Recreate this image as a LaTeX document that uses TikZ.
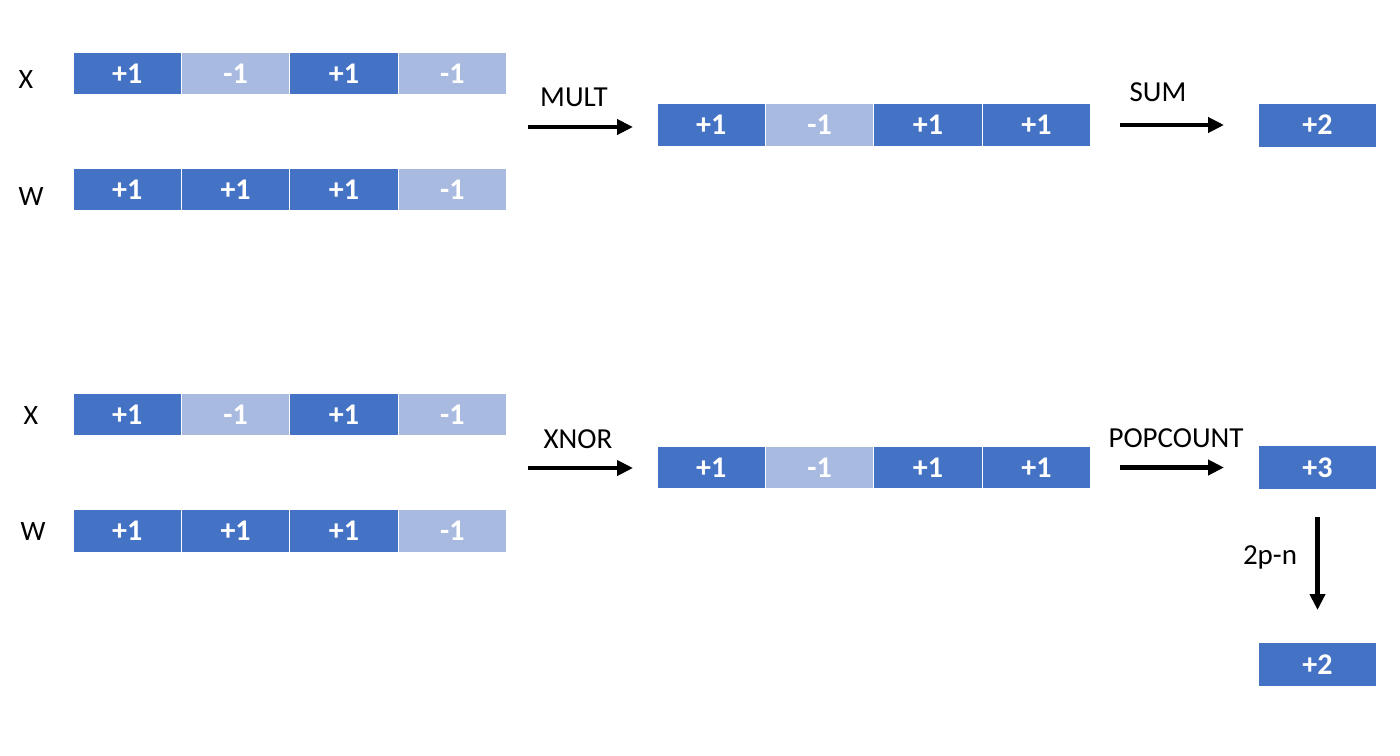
\documentclass[tikz,border=0pt]{standalone}
\usepackage{fontspec}
\setmainfont{Carlito}
\usepackage{tikz}
\usetikzlibrary{positioning}
\usetikzlibrary{arrows.meta}
\definecolor{bitpos}{HTML}{4472C4}
\definecolor{bitneg}{HTML}{A8BAE0}
\tikzset{bit/.style={minimum width=54.2pt,minimum height=21.5pt,inner sep=0pt,
                     outer sep=0pt,draw=white,line width=0.6pt,text=white,
                     font=\fontsize{15}{17}\selectfont\bfseries},
         plusbit/.style={bit,fill=bitpos},
         minusbit/.style={bit,fill=bitneg},
         total/.style={bit,fill=bitpos,draw=none,minimum width=58.5pt},
         oplabel/.style={font=\fontsize{14.5}{16}\selectfont},
         rowlabel/.style={font=\fontsize{14}{16}\selectfont},
         flow/.style={draw,line width=2.4pt,-{Triangle[length=8pt,width=7.5pt]}}}

\begin{document}
\begin{tikzpicture}[x=0.5pt,y=-0.5pt]
  \useasboundingbox[fill=white] (0,0) rectangle (1400,755);
  % real-valued product
  \node[rowlabel] (lx) at (26,80) {X};
  \node[rowlabel] (lw) at (31,197) {W};
  \node[plusbit,anchor=west] (xa) at (73,73.5) {+1};
  \node[minusbit,right=0pt of xa] (xb) {-1};
  \node[plusbit,right=0pt of xb] (xc) {+1};
  \node[minusbit,right=0pt of xc] (xd) {-1};
  \node[plusbit,anchor=west] (wa) at (73,189.5) {+1};
  \node[plusbit,right=0pt of wa] (wb) {+1};
  \node[plusbit,right=0pt of wb] (wc) {+1};
  \node[minusbit,right=0pt of wc] (wd) {-1};
  \node[plusbit,anchor=west] (ma) at (657,125) {+1};
  \node[minusbit,right=0pt of ma] (mb) {-1};
  \node[plusbit,right=0pt of mb] (mc) {+1};
  \node[plusbit,right=0pt of mc] (md) {+1};
  \node[total] (sum) at (1317.5,125) {+2};
  \coordinate (multin) at (528,127);
  \draw[flow,shorten >=12pt] (multin) -- (ma.west |- multin);
  \draw[flow,shorten <=14.5pt,shorten >=17.5pt] (md.east) -- (sum.west);
  \node[oplabel] (lmult) at (574,97) {MULT};
  \node[oplabel] (lsum) at (1158,92.5) {SUM};
  % binary version
  \node[rowlabel] (bx) at (31,416) {X};
  \node[rowlabel] (bw) at (33,532) {W};
  \node[plusbit,anchor=west] (ya) at (73,414.5) {+1};
  \node[minusbit,right=0pt of ya] (yb) {-1};
  \node[plusbit,right=0pt of yb] (yc) {+1};
  \node[minusbit,right=0pt of yc] (yd) {-1};
  \node[plusbit,anchor=west] (va) at (73,531) {+1};
  \node[plusbit,right=0pt of va] (vb) {+1};
  \node[plusbit,right=0pt of vb] (vc) {+1};
  \node[minusbit,right=0pt of vc] (vd) {-1};
  \node[plusbit,anchor=west] (ra) at (657,467.5) {+1};
  \node[minusbit,right=0pt of ra] (rb) {-1};
  \node[plusbit,right=0pt of rb] (rc) {+1};
  \node[plusbit,right=0pt of rc] (rd) {+1};
  \node[total] (pop) at (1317.5,467.5) {+3};
  \node[total] (res) at (1317.5,664.5) {+2};
  \coordinate (xnorin) at (528,468);
  \draw[flow,shorten >=12pt] (xnorin) -- (ra.west |- xnorin);
  \draw[flow,shorten <=14.5pt,shorten >=17.5pt] (rd.east) -- (pop.west);
  \draw[flow,shorten <=14pt,shorten >=16.5pt] (pop.south) -- (res.north);
  \node[oplabel] (lxnor) at (578,439) {XNOR};
  \node[oplabel] (lpop) at (1176,438.5) {POPCOUNT};
  \node[oplabel] (lscale) at (1270,557) {2p-n};
\end{tikzpicture}
\end{document}
